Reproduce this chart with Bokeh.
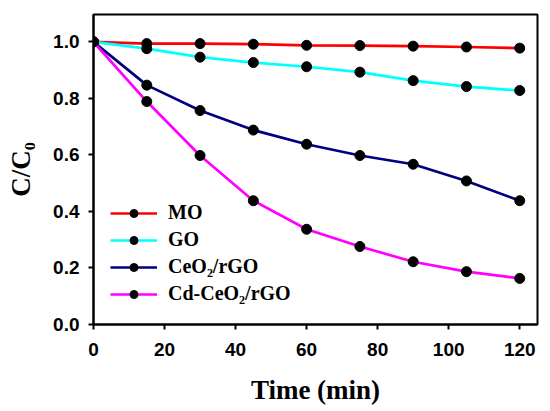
from bokeh.plotting import figure
from bokeh.embed import file_html
from bokeh.resources import INLINE
from bokeh.models import Range1d, FixedTicker, CustomJSTickFormatter

time_min = [0, 15, 30, 45, 60, 75, 90, 105, 120]
mo = [1.0, 0.994, 0.994, 0.992, 0.988, 0.987, 0.985, 0.982, 0.978]
go = [1.0, 0.976, 0.946, 0.927, 0.912, 0.893, 0.863, 0.842, 0.828]
ceo2_rgo = [1.0, 0.847, 0.757, 0.688, 0.638, 0.598, 0.567, 0.508, 0.438]
cd_ceo2_rgo = [1.0, 0.789, 0.598, 0.438, 0.337, 0.276, 0.222, 0.187, 0.163]

series = [
    ("MO", mo, "#FF0000"),
    ("GO", go, "#00FFFF"),
    ("CeO\u2082/rGO", ceo2_rgo, "#000080"),
    ("Cd-CeO\u2082/rGO", cd_ceo2_rgo, "#FF00FF"),
]

x_ticks = [0, 20, 40, 60, 80, 100, 120]
y_ticks = [0.0, 0.2, 0.4, 0.6, 0.8, 1.0]

p = figure(frame_width=444, frame_height=310, output_backend="svg",
           toolbar_location=None, x_range=Range1d(0, 125), y_range=Range1d(0, 1.097),
           min_border_left=93, min_border_right=5, min_border_top=14, min_border_bottom=80)

for name, ys, col in series:
    p.line(time_min, ys, line_color=col, line_width=2.7, legend_label=name)
    p.scatter(time_min, ys, size=10, fill_color="black", line_color="black", legend_label=name)

p.grid.visible = False
p.outline_line_color = "black"
p.outline_line_width = 2

for ax in (p.xaxis[0], p.yaxis[0]):
    ax.axis_line_width = 2
    ax.axis_line_color = "black"
    ax.major_tick_line_width = 2
    ax.major_tick_in = 0
    ax.major_tick_out = 5
    ax.minor_tick_line_color = None
    ax.major_label_text_font = "Arial"
    ax.major_label_text_font_style = "bold"
    ax.major_label_text_font_size = "19px"
    ax.major_label_text_color = "black"
    ax.axis_label_text_font = "Liberation Serif"
    ax.axis_label_text_font_style = "bold"
    ax.axis_label_text_font_size = "27px"
    ax.axis_label_text_color = "black"

p.xaxis.ticker = FixedTicker(ticks=x_ticks)
p.yaxis.ticker = FixedTicker(ticks=y_ticks)
p.yaxis.formatter = CustomJSTickFormatter(code="return tick.toFixed(1);")
p.xaxis.axis_label = "Time (min)"
p.yaxis.axis_label = "C/C\u2080"
p.xaxis.major_label_standoff = 13
p.xaxis.axis_label_standoff = 16
p.yaxis.major_label_standoff = 9
p.yaxis.axis_label_standoff = 14

leg = p.legend[0]
leg.location = (17, 19)
leg.background_fill_alpha = 0
leg.border_line_color = None
leg.label_text_font = "Liberation Serif"
leg.label_text_font_style = "bold"
leg.label_text_font_size = "20px"
leg.label_text_color = "black"
leg.glyph_width = 47
leg.glyph_height = 20
leg.label_height = 20
leg.spacing = 4
leg.label_standoff = 11
leg.padding = 5

open("out.html", "w").write(file_html(p, INLINE))
